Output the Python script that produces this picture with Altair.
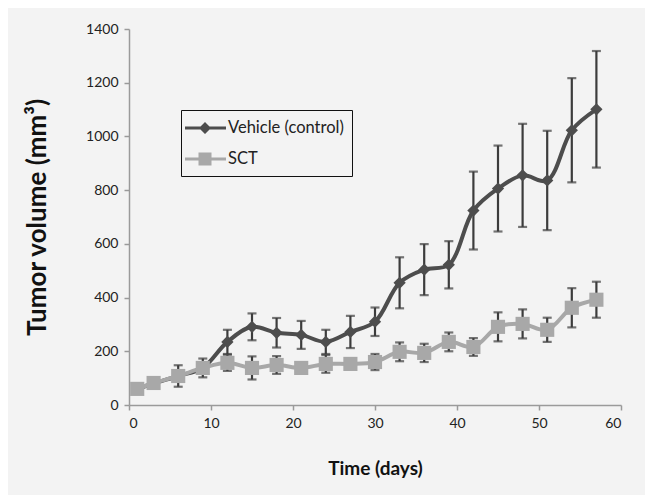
import altair as alt
import pandas as pd

days = [1, 3, 6, 9, 12, 15, 18, 21, 24, 27, 30, 33, 36, 39, 42, 45, 48, 51, 54, 57]
vehicle = [60, 80, 108, 138, 235, 291, 269, 261, 235, 272, 310, 455, 504, 522, 724, 806, 855, 836, 1023, 1101]
vehicle_err = [10, 12, 40, 35, 45, 50, 55, 52, 45, 60, 53, 95, 95, 88, 145, 160, 192, 185, 194, 217]
sct = [60, 82, 108, 138, 157, 138, 149, 138, 153, 153, 160, 198, 194, 235, 216, 291, 302, 280, 362, 392]
sct_err = [10, 12, 20, 20, 30, 43, 33, 15, 33, 20, 30, 35, 34, 35, 33, 54, 54, 45, 73, 67]

series_names = ["Vehicle (control)", "SCT"]
line_colors = ["#4d4d4d", "#a8a8a8"]
err_color = "#3c3c3c"

rows = []
for name, vals, errs in [(series_names[0], vehicle, vehicle_err), (series_names[1], sct, sct_err)]:
    for d, v, e in zip(days, vals, errs):
        rows.append({"series": name, "day": d, "vol": v, "lo": v - e, "hi": v + e})
df = pd.DataFrame(rows)

FONT = "Lato"

xs = alt.Scale(domain=[0, 60], nice=False)
ys = alt.Scale(domain=[0, 1400], nice=False)

xaxis = alt.Axis(values=list(range(0, 61, 10)), title="Time (days)", grid=False, format="d",
                 labelFontSize=14, titleFontSize=19, titleFontWeight="bold",
                 labelPadding=6, titlePadding=29, tickSize=5)
yaxis = alt.Axis(values=list(range(0, 1401, 200)), title="Tumor volume (mm³)", grid=False, format="d",
                 labelFontSize=14, titleFontSize=26, titleFontWeight="bold",
                 labelPadding=6, titlePadding=35, tickSize=5)

base = alt.Chart(df)


def layers_for(name, color, shape, size):
    sub = base.transform_filter(alt.datum.series == name)
    err = sub.mark_rule(color=err_color, strokeWidth=2.2).encode(
        x=alt.X("day:Q", scale=xs, axis=xaxis),
        y=alt.Y("lo:Q", scale=ys, axis=yaxis),
        y2="hi:Q",
    )
    cap_lo = sub.mark_tick(color=err_color, orient="horizontal", size=9, thickness=2.2).encode(
        x=alt.X("day:Q", scale=xs), y=alt.Y("lo:Q", scale=ys)
    )
    cap_hi = sub.mark_tick(color=err_color, orient="horizontal", size=9, thickness=2.2).encode(
        x=alt.X("day:Q", scale=xs), y=alt.Y("hi:Q", scale=ys)
    )
    line = sub.mark_line(color=color, strokeWidth=4, interpolate="catmull-rom").encode(
        x=alt.X("day:Q", scale=xs), y=alt.Y("vol:Q", scale=ys)
    )
    pts = sub.mark_point(shape=shape, filled=True, color=color, size=size, opacity=1).encode(
        x=alt.X("day:Q", scale=xs), y=alt.Y("vol:Q", scale=ys)
    )
    return [err, cap_lo, cap_hi, line, pts]


# legend symbols: line segment with marker (path units are half the symbol side)
veh_path = "M-1.4,-0.15L2.7,-0.15L2.7,0.15L-1.4,0.15Z M0.6,-0.6L1.2,0L0.6,0.6L0,0Z"
sct_path = "M-1.4,-0.15L2.7,-0.15L2.7,0.15L-1.4,0.15Z M-0.05,-0.65L1.25,-0.65L1.25,0.65L-0.05,0.65Z"

leg = alt.Legend(title=None, orient="none", legendX=52, legendY=81,
                 strokeColor="#111", padding=8, labelFontSize=16.5,
                 labelColor="#222", rowPadding=12, labelOffset=19,
                 symbolSize=400, symbolStrokeWidth=0)

legend_layer = base.transform_filter("false").mark_point(filled=True, size=400, opacity=1).encode(
    x=alt.X("day:Q", scale=xs),
    y=alt.Y("vol:Q", scale=ys),
    fill=alt.Fill("series:N", scale=alt.Scale(domain=series_names, range=line_colors), legend=leg),
    shape=alt.Shape("series:N", scale=alt.Scale(domain=series_names, range=[veh_path, sct_path]),
                    legend=leg),
)

all_layers = layers_for(series_names[0], line_colors[0], "diamond", 150) + \
    layers_for(series_names[1], line_colors[1], "square", 200) + [legend_layer]

chart = alt.layer(*all_layers).properties(
    width=492, height=376,
    autosize=alt.AutoSizeParams(type="none"),
    padding={"left": 121, "top": 21, "right": 24, "bottom": 90},
    background="#f3f3f3",
).configure_view(stroke=None).configure_axis(
    domainColor="#9a9a9a", tickColor="#9a9a9a", labelColor="#222", titleColor="#111",
    labelFont=FONT, titleFont=FONT, domainWidth=1.5, tickWidth=1.5,
).configure_legend(labelFont=FONT)

chart.save("out.html", embed_options={"renderer": "svg", "actions": False})
